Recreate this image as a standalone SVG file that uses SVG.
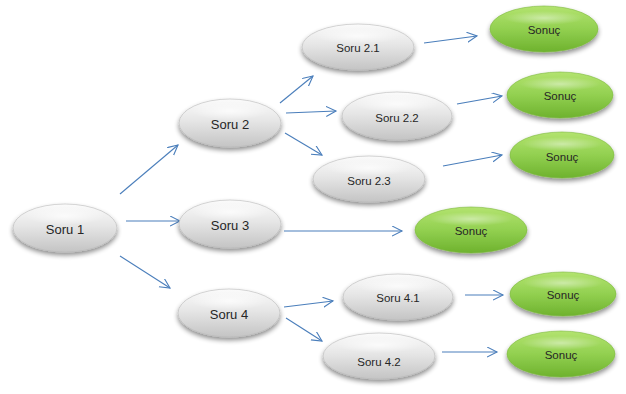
<svg xmlns="http://www.w3.org/2000/svg" width="626" height="394" viewBox="0 0 626 394">
<defs>
<linearGradient id="gGray" x1="0" y1="0" x2="0" y2="1">
<stop offset="0" stop-color="#fbfbfb"/>
<stop offset="0.45" stop-color="#e6e6e6"/>
<stop offset="1" stop-color="#c4c4c4"/>
</linearGradient>
<linearGradient id="gGreen" x1="0" y1="0" x2="0" y2="1">
<stop offset="0" stop-color="#b3e36f"/>
<stop offset="0.5" stop-color="#92d050"/>
<stop offset="1" stop-color="#6eb22e"/>
</linearGradient>
<radialGradient id="gHi" cx="0.5" cy="0.5" r="0.5">
<stop offset="0" stop-color="#ffffff" stop-opacity="0.75"/>
<stop offset="1" stop-color="#ffffff" stop-opacity="0"/>
</radialGradient>
<filter id="sh" x="-20%" y="-30%" width="140%" height="170%">
<feGaussianBlur in="SourceAlpha" stdDeviation="2.5"/>
<feOffset dx="0" dy="3" result="b"/>
<feComponentTransfer><feFuncA type="linear" slope="0.45"/></feComponentTransfer>
<feMerge><feMergeNode/><feMergeNode in="SourceGraphic"/></feMerge>
</filter>
<marker id="ah" markerWidth="12" markerHeight="12" refX="10" refY="5" orient="auto" markerUnits="userSpaceOnUse">
<polyline points="0,0 10,5 0,10" fill="none" stroke="#4a7ebb" stroke-width="1.1"/>
</marker>
</defs>
<style>
.g{fill:url(#gGray);stroke:#b8b8b8;stroke-width:0.6;filter:url(#sh)}
.n{fill:url(#gGreen);stroke:#7cb93c;stroke-width:0.6;filter:url(#sh)}
.hi{fill:url(#gHi)}
.t{font-family:"Liberation Sans",Arial,sans-serif;font-size:13px;fill:#262626;text-anchor:middle;dominant-baseline:central}
.ts{font-family:"Liberation Sans",Arial,sans-serif;font-size:11.5px;fill:#262626;text-anchor:middle;dominant-baseline:central}
.a{stroke:#4a7ebb;stroke-width:1.1;fill:none;marker-end:url(#ah)}
</style>
<rect width="626" height="394" fill="#ffffff"/>
<g id="connectors">
<line class="a" x1="120" y1="194" x2="178" y2="145"/>
<line class="a" x1="126" y1="221" x2="180" y2="221"/>
<line class="a" x1="120" y1="256" x2="170" y2="288"/>
<line class="a" x1="280" y1="103" x2="313" y2="76"/>
<line class="a" x1="286" y1="113" x2="336" y2="111"/>
<line class="a" x1="285" y1="133" x2="322" y2="155"/>
<line class="a" x1="424" y1="43" x2="477" y2="36"/>
<line class="a" x1="457" y1="104" x2="502" y2="96"/>
<line class="a" x1="443" y1="166" x2="502" y2="155"/>
<line class="a" x1="284" y1="231" x2="402" y2="231"/>
<line class="a" x1="284" y1="307" x2="333" y2="301"/>
<line class="a" x1="286" y1="318" x2="322" y2="341"/>
<line class="a" x1="465" y1="295" x2="503" y2="295"/>
<line class="a" x1="442" y1="352" x2="497" y2="352"/>
</g>
<g id="soru1"><ellipse class="g" cx="65" cy="228" rx="52" ry="24"/><ellipse class="hi" cx="65" cy="216" rx="40" ry="9"/><text class="t" x="65" y="229">Soru 1</text></g>
<g id="soru2"><ellipse class="g" cx="230" cy="123" rx="51" ry="24"/><ellipse class="hi" cx="230" cy="111" rx="39" ry="9"/><text class="t" x="230" y="124">Soru 2</text></g>
<g id="soru3"><ellipse class="g" cx="230" cy="224" rx="51" ry="24"/><ellipse class="hi" cx="230" cy="212" rx="39" ry="9"/><text class="t" x="230" y="225">Soru 3</text></g>
<g id="soru4"><ellipse class="g" cx="229" cy="313" rx="51" ry="24"/><ellipse class="hi" cx="229" cy="301" rx="39" ry="9"/><text class="t" x="229" y="314">Soru 4</text></g>
<g id="soru21"><ellipse class="g" cx="358" cy="47" rx="56" ry="23"/><ellipse class="hi" cx="358" cy="36" rx="43" ry="8"/><text class="ts" x="358" y="48">Soru 2.1</text></g>
<g id="soru22"><ellipse class="g" cx="397" cy="116" rx="55" ry="24"/><ellipse class="hi" cx="397" cy="104" rx="42" ry="9"/><text class="ts" x="397" y="118">Soru 2.2</text></g>
<g id="soru23"><ellipse class="g" cx="369" cy="179" rx="56" ry="23"/><ellipse class="hi" cx="369" cy="168" rx="43" ry="8"/><text class="ts" x="369" y="181">Soru 2.3</text></g>
<g id="soru41"><ellipse class="g" cx="398" cy="297" rx="55" ry="23"/><ellipse class="hi" cx="398" cy="286" rx="42" ry="8"/><text class="ts" x="398" y="298">Soru 4.1</text></g>
<g id="soru42"><ellipse class="g" cx="379" cy="356" rx="56" ry="23"/><ellipse class="hi" cx="379" cy="345" rx="43" ry="8"/><text class="ts" x="379" y="362">Soru 4.2</text></g>
<g id="sonuc1"><ellipse class="n" cx="544" cy="29" rx="54" ry="23"/><ellipse class="hi" cx="544" cy="18" rx="40" ry="7" opacity="0.6"/><text class="ts" x="544" y="30">Sonuç</text></g>
<g id="sonuc2"><ellipse class="n" cx="560" cy="95" rx="53" ry="23"/><ellipse class="hi" cx="560" cy="84" rx="40" ry="7" opacity="0.6"/><text class="ts" x="560" y="96">Sonuç</text></g>
<g id="sonuc3"><ellipse class="n" cx="562" cy="155" rx="52" ry="23"/><ellipse class="hi" cx="562" cy="144" rx="40" ry="7" opacity="0.6"/><text class="ts" x="562" y="157">Sonuç</text></g>
<g id="sonuc4"><ellipse class="n" cx="471" cy="230" rx="56" ry="23"/><ellipse class="hi" cx="471" cy="219" rx="42" ry="7" opacity="0.6"/><text class="ts" x="471" y="231">Sonuç</text></g>
<g id="sonuc5"><ellipse class="n" cx="563" cy="294" rx="53" ry="22"/><ellipse class="hi" cx="563" cy="283" rx="40" ry="7" opacity="0.6"/><text class="ts" x="563" y="295">Sonuç</text></g>
<g id="sonuc6"><ellipse class="n" cx="561" cy="354" rx="54" ry="23"/><ellipse class="hi" cx="561" cy="343" rx="40" ry="7" opacity="0.6"/><text class="ts" x="561" y="355">Sonuç</text></g>
</svg>
